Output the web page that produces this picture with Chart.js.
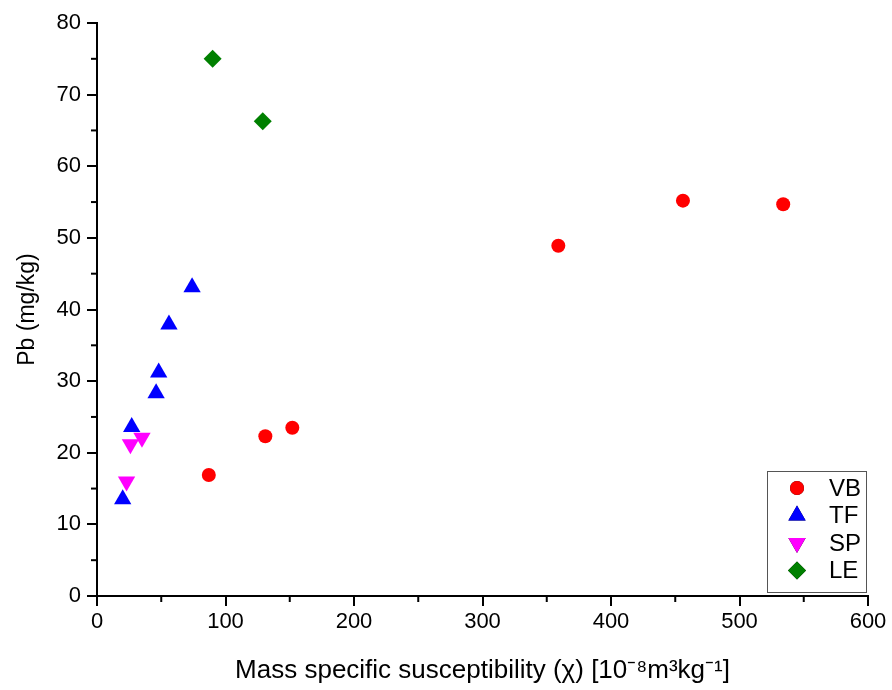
<!DOCTYPE html>
<html>
<head>
<meta charset="utf-8">
<script src="https://cdn.jsdelivr.net/npm/chart.js@4.4.0/dist/chart.umd.min.js"></script>
<style>
  html, body { margin: 0; padding: 0; background: #fff; }
  #wrap { width: 892px; height: 690px; }
</style>
</head>
<body>
<div id="wrap"><canvas id="chart"></canvas></div>
<script>
// Pb vs mass specific susceptibility, four groups
const vbX = [87, 131, 152, 359, 456, 534];
const vbY = [16.9, 22.3, 23.5, 48.9, 55.2, 54.7];

const tfX = [20, 27, 46, 48, 56, 74];
const tfY = [13.5, 23.6, 28.3, 31.2, 37.9, 43.1];

const spX = [23, 26, 35];
const spY = [16.0, 21.2, 22.1];

const leX = [90, 129];
const leY = [75.0, 66.3];

const xTicks = [0, 100, 200, 300, 400, 500, 600];
const yTicks = [0, 10, 20, 30, 40, 50, 60, 70, 80];

const toPoints = (xs, ys) => xs.map((x, i) => ({ x: x, y: ys[i] }));

const FONT = "'Liberation Sans', Arial, sans-serif";

// minor ticks between the labelled ones
const minorTicks = {
  id: "minorTicks",
  afterDraw(chart) {
    const ctx = chart.ctx;
    const xs = chart.scales.x, ys = chart.scales.y;
    ctx.save();
    ctx.strokeStyle = "#000";
    ctx.lineWidth = 2;
    for (let v = 50; v < 600; v += 100) {
      const px = xs.getPixelForValue(v);
      ctx.beginPath();
      ctx.moveTo(px, xs.top);
      ctx.lineTo(px, xs.top + 6);
      ctx.stroke();
    }
    for (let v = 5; v < 80; v += 10) {
      const py = ys.getPixelForValue(v);
      ctx.beginPath();
      ctx.moveTo(ys.right, py);
      ctx.lineTo(ys.right - 6, py);
      ctx.stroke();
    }
    ctx.restore();
  }
};

// legend box inside the plot, lower right
const boxLegend = {
  id: "boxLegend",
  afterDraw(chart) {
    const ctx = chart.ctx;
    const area = chart.chartArea;
    const w = 99, h = 121;
    const left = area.right - w - 2, top = area.bottom - h - 4;
    ctx.save();
    ctx.fillStyle = "#fff";
    ctx.fillRect(left, top, w, h);
    ctx.strokeStyle = "#555";
    ctx.lineWidth = 1;
    ctx.strokeRect(left + 0.5, top + 0.5, w, h);
    ctx.font = "24px " + FONT;
    ctx.textBaseline = "middle";
    ctx.fillStyle = "#000";
    chart.data.datasets.forEach((ds, i) => {
      const cy = top + 17 + i * 27.5;
      const cx = left + 30;
      Chart.helpers.drawPoint(ctx, {
        pointStyle: ds.pointStyle,
        rotation: ds.rotation || 0,
        radius: ds.pointRadius
      }, cx, cy);
      ctx.fillStyle = ds.backgroundColor;
      ctx.fill();
      ctx.fillStyle = "#000";
      ctx.fillText(ds.label, left + 62, cy + 1);
    });
    ctx.restore();
  }
};

const ctx = document.getElementById("chart").getContext("2d");
new Chart(ctx, {
  type: "scatter",
  data: {
    datasets: [
      { label: "VB", data: toPoints(vbX, vbY), pointStyle: "circle", pointRadius: 7,
        backgroundColor: "#ff0000", borderColor: "#ff0000", borderWidth: 0 },
      { label: "TF", data: toPoints(tfX, tfY), pointStyle: "triangle", pointRadius: 10,
        backgroundColor: "#0000ff", borderColor: "#0000ff", borderWidth: 0 },
      { label: "SP", data: toPoints(spX, spY), pointStyle: "triangle", rotation: 180, pointRotation: 180, pointRadius: 10,
        backgroundColor: "#ff00ff", borderColor: "#ff00ff", borderWidth: 0 },
      { label: "LE", data: toPoints(leX, leY), pointStyle: "rectRot", pointRadius: 9,
        backgroundColor: "#008000", borderColor: "#008000", borderWidth: 0 }
    ]
  },
  options: {
    responsive: true,
    maintainAspectRatio: false,
    animation: false,
    layout: { padding: { top: 23, right: 24, left: 0, bottom: 0 } },
    plugins: {
      legend: { display: false },
      tooltip: { enabled: false }
    },
    scales: {
      x: {
        type: "linear",
        min: 0, max: 600,
        afterBuildTicks: (s) => { s.ticks = xTicks.map(v => ({ value: v })); },
        afterFit: (s) => { s.height = 94; },
        border: { display: true, color: "#000", width: 2 },
        grid: { drawOnChartArea: false, drawTicks: true, tickLength: 10, color: "#000", lineWidth: 2 },
        ticks: { color: "#000", font: { family: FONT, size: 22 }, padding: 3, maxRotation: 0 },
        title: {
          display: true,
          text: "Mass specific susceptibility (\u03c7) [10\u207b\u2078m\u00b3kg\u207b\u00b9]",
          color: "#000",
          font: { family: FONT, size: 26 },
          padding: { top: 8 }
        }
      },
      y: {
        type: "linear",
        min: 0, max: 80,
        afterBuildTicks: (s) => { s.ticks = yTicks.map(v => ({ value: v })); },
        afterFit: (s) => { s.width = 97; },
        border: { display: true, color: "#000", width: 2 },
        grid: { drawOnChartArea: false, drawTicks: true, tickLength: 10, color: "#000", lineWidth: 2 },
        ticks: { color: "#000", font: { family: FONT, size: 22 }, padding: 6 },
        title: {
          display: true,
          text: "Pb (mg/kg)",
          color: "#000",
          font: { family: FONT, size: 23 },
          padding: { top: 14, bottom: 0 }
        }
      }
    }
  },
  plugins: [minorTicks, boxLegend]
});
</script>
</body>
</html>
